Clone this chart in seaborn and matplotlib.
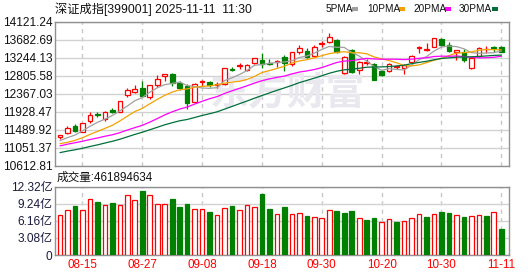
import numpy as np
import pandas as pd
import matplotlib
matplotlib.use("Agg")
import matplotlib.pyplot as plt
from matplotlib.patches import Rectangle
import seaborn as sns

# ---------------- data ----------------
title = "深证成指[399001] 2025-11-11  11:30"
vol_title = "成交量:461894634"

dates = ["08-12", "08-13", "08-14", "08-15", "08-18", "08-19", "08-20", "08-21", "08-22", "08-25",
         "08-26", "08-27", "08-28", "08-29", "09-01", "09-02", "09-03", "09-04", "09-05", "09-08",
         "09-09", "09-10", "09-11", "09-12", "09-15", "09-16", "09-17", "09-18", "09-19", "09-22",
         "09-23", "09-24", "09-25", "09-26", "09-29", "09-30", "10-09", "10-10", "10-13", "10-14",
         "10-15", "10-16", "10-17", "10-20", "10-21", "10-22", "10-23", "10-24", "10-27", "10-28",
         "10-29", "10-30", "10-31", "11-03", "11-04", "11-05", "11-06", "11-07", "11-10", "11-11"]

opens = [11320, 11403, 11580, 11442, 11702, 11865, 11758, 11955, 11929, 12328,
         12416, 12499, 12279, 12586, 12806, 12847, 12621, 12555, 12172, 12645,
         12645, 12567, 12604, 12962, 13035, 12945, 13108, 13188, 13110, 13139,
         13254, 13083, 13376, 13408, 13286, 13571, 13627, 13668, 12872, 13425,
         12952, 13120, 13098, 12928, 12913, 13027, 12988, 13132, 13488, 13442,
         13512, 13700, 13554, 13390, 13390, 12986, 13293, 13444, 13481, 13498]
highs = [11354, 11580, 11629, 11661, 11929, 11914, 11946, 12012, 12197, 12513,
         12572, 12677, 12580, 12823, 12845, 12879, 12684, 12596, 12621, 12701,
         12684, 12660, 13001, 13025, 13108, 13091, 13244, 13351, 13205, 13188,
         13310, 13390, 13554, 13473, 13554, 13644, 13853, 13700, 13278, 13464,
         13157, 13213, 13115, 12952, 13115, 13074, 13079, 13310, 13537, 13595,
         13731, 13731, 13634, 13440, 13456, 13269, 13512, 13537, 13537, 13537]
lows = [11271, 11386, 11434, 11427, 11661, 11807, 11709, 11890, 11914, 12294,
        12392, 12311, 12231, 12538, 12684, 12562, 12457, 11987, 12148, 12562,
        12523, 12499, 12579, 12928, 12976, 12920, 13083, 12986, 13066, 13025,
        12920, 13049, 13327, 13244, 13261, 13498, 13610, 13366, 12854, 12872,
        12847, 13074, 12694, 12791, 12888, 12976, 12835, 13108, 13366, 13415,
        13505, 13537, 13390, 13188, 13132, 12962, 13269, 13351, 13390, 13385]
closes = [11347, 11539, 11466, 11646, 11841, 11835, 11929, 11920, 12182, 12457,
          12474, 12319, 12572, 12718, 12840, 12621, 12499, 12133, 12604, 12660,
          12579, 12591, 12986, 12952, 13054, 13066, 13230, 13091, 13085, 13164,
          13122, 13376, 13488, 13269, 13512, 13578, 13741, 13383, 13261, 12896,
          13132, 13128, 12708, 12816, 13091, 13037, 13062, 13293, 13498, 13451,
          13717, 13554, 13415, 13432, 13188, 13244, 13473, 13451, 13473, 13390]
# closes of the 29 sessions before the window (feed the moving averages)
prior_closes = [10413, 10535, 10534, 10535, 10647, 10581, 10631, 10696, 10685, 10721,
                10720, 10760, 10914, 11008, 11100, 11060, 11194, 11168, 11168, 11289,
                11203, 11009, 10991, 11041, 11107, 11177, 11157, 11129, 11292]
# volume in 亿
volumes = [7.21, 8.05, 8.83, 8.05, 10.04, 9.56, 9.01, 9.38, 9.01, 10.82,
           9.86, 11.54, 10.82, 9.13, 9.13, 10.10, 8.65, 9.19, 8.23, 8.23,
           7.75, 7.21, 8.41, 8.83, 8.05, 9.01, 8.59, 11.00, 8.29, 7.39,
           8.65, 7.33, 7.51, 7.03, 6.79, 6.61, 8.05, 7.93, 7.57, 7.93,
           6.61, 6.31, 6.67, 5.89, 6.43, 5.95, 6.07, 6.61, 7.33, 6.85,
           7.33, 7.75, 7.57, 7.15, 6.85, 6.97, 7.15, 7.03, 7.69, 4.62]

price_ticks = [10612.81, 11051.37, 11489.92, 11928.47, 12367.03, 12805.58, 13244.13, 13682.69, 14121.24]
price_tick_labels = ["10612.81", "11051.37", "11489.92", "11928.47", "12367.03", "12805.58",
                     "13244.13", "13682.69", "14121.24"]
vol_ticks = [0, 3.08, 6.16, 9.24, 12.32]
vol_tick_labels = ["0", "3.08亿", "6.16亿", "9.24亿", "12.32亿"]
date_labels = ["08-15", "08-27", "09-08", "09-18", "09-30", "10-20", "10-30", "11-11"]

ma_windows = [5, 10, 20, 30]
ma_names = ["5PMA", "10PMA", "20PMA", "30PMA"]
ma_colors = ["#a0a0a0", "#f5a200", "#ff00ff", "#006f3a"]

UP = "#ff0000"
DOWN = "#008000"

# ---------------- style ----------------
sns.set_theme(style="white")
plt.rcParams["font.family"] = ["Liberation Sans", "Noto Sans CJK SC"]
plt.rcParams["axes.unicode_minus"] = False

W, H = 530, 276
fig = plt.figure(figsize=(W / 100, H / 100), dpi=100)
fig.patch.set_facecolor("white")


def rect(l, t, r, b):
    return [l / W, 1 - b / H, (r - l) / W, (b - t) / H]


ax = fig.add_axes(rect(55, 21.7, 509.3, 165.5))
axv = fig.add_axes(rect(55, 186.7, 509.3, 255))

n = len(closes)
x = np.arange(n)
xlim = (-0.67, 60.07)

df = pd.DataFrame({"date": dates, "x": x, "open": opens, "high": highs,
                   "low": lows, "close": closes, "vol": volumes})
all_close = pd.Series(prior_closes + closes, dtype=float)
df["prev_close"] = all_close.shift(1).iloc[-n:].to_numpy()

# ---------------- candles ----------------
bw = 0.62
min_h = 20
for r in df.itertuples():
    up = r.close >= r.open
    col = UP if up else DOWN
    ax.vlines(r.x, r.low, r.high, color=col, lw=0.9, zorder=3)
    bottom = min(r.open, r.close)
    hgt = max(abs(r.close - r.open), min_h)
    ax.add_patch(Rectangle((r.x - bw / 2, bottom), bw, hgt,
                           facecolor="white" if up else col, edgecolor=col,
                           lw=0.9, zorder=4))

# moving averages
for w, name, c in zip(ma_windows, ma_names, ma_colors):
    ma = all_close.rolling(w).mean().iloc[-n:].to_numpy()
    sns.lineplot(x=x, y=ma, ax=ax, color=c, linewidth=0.9, zorder=5, legend=False)

# ---------------- volume ----------------
vol_up = df["close"] >= df["prev_close"]
for r, u in zip(df.itertuples(), vol_up):
    col = UP if u else DOWN
    axv.bar(r.x, r.vol, width=bw, facecolor="white" if u else col,
            edgecolor=col, lw=0.9, zorder=3)

# ---------------- axes cosmetics ----------------
date_pos = [dates.index(d) for d in date_labels]
for a in (ax, axv):
    a.set_xlim(*xlim)
    a.set_xticks(date_pos)
    a.xaxis.grid(True, color="#c8c8c8", lw=1, ls=(0, (3, 3)), zorder=0)
    a.yaxis.grid(True, color="#d2d2d2", lw=1, ls="-", zorder=0)
    a.set_axisbelow(True)
    a.tick_params(length=0, pad=2)
    for s in a.spines.values():
        s.set_color("#909090")
        s.set_linewidth(1)
    a.set_xlabel("")
    a.set_ylabel("")

ax.set_ylim(price_ticks[0], price_ticks[-1])
ax.set_yticks(price_ticks)
ax.set_yticklabels(price_tick_labels, fontsize=8.6, color="#111111")
ax.set_xticklabels([])

axv.set_ylim(vol_ticks[0], vol_ticks[-1])
axv.set_yticks(vol_ticks)
axv.set_yticklabels(vol_tick_labels, fontsize=8.6, color="#1a1a40")
axv.set_xticklabels(date_labels, fontsize=8.4, color=UP)
axv.tick_params(axis="x", pad=3)

# watermark
ax.text((287 - 55) / 454.3, 1 - (94 - 21.7) / 143.8, "东方财富", transform=ax.transAxes,
        fontsize=28, fontweight="bold", color="#e8e8ee", ha="center", va="center",
        family="Noto Sans CJK SC", zorder=1)

# title texts
fig.text(55 / W, 1 - 9 / H, title, fontsize=8.8, ha="left", va="center", color="#111111")
fig.text(57 / W, 1 - 178 / H, vol_title, fontsize=8.4, ha="left", va="center", color="#111111")

# MA legend
leg_text_x = [326, 367, 413, 459]
leg_box_x = [352, 399, 445, 492]
for name, c, tx, bx in zip(ma_names, ma_colors, leg_text_x, leg_box_x):
    fig.text(tx / W, 1 - 9.3 / H, name, fontsize=7.2, ha="left", va="center", color="#111111")
    fig.add_artist(Rectangle((bx / W, 1 - 11.3 / H), 6 / W, 4 / H,
                             transform=fig.transFigure, facecolor=c, edgecolor="none"))

fig.savefig("out.png", dpi=100)
